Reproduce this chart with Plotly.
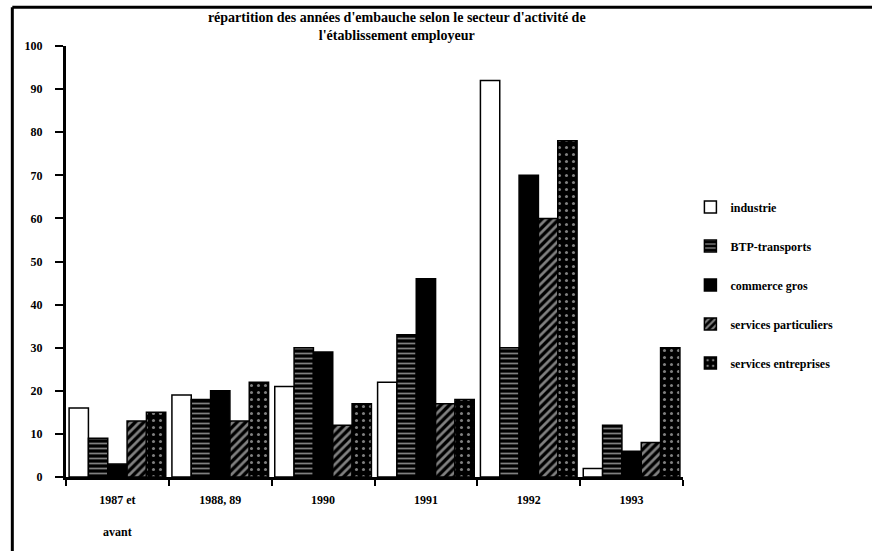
import plotly.graph_objects as go

# années d'embauche
categories = ["1987 et<br><br>avant", "1988, 89", "1990", "1991", "1992", "1993"]

industrie = [16, 19, 21, 22, 92, 2]
btp_transports = [9, 18, 30, 33, 30, 12]
commerce_gros = [3, 20, 29, 46, 70, 6]
services_particuliers = [13, 13, 12, 17, 60, 8]
services_entreprises = [15, 22, 17, 18, 78, 30]

y_ticks = [0, 10, 20, 30, 40, 50, 60, 70, 80, 90, 100]

series = [
    ("industrie", industrie, dict(color="white", pattern=dict(shape=""))),
    ("BTP-transports", btp_transports,
     dict(color="black", pattern=dict(shape="-", fgcolor="white", bgcolor="black", size=5, solidity=0.35))),
    ("commerce gros", commerce_gros, dict(color="black", pattern=dict(shape=""))),
    ("services particuliers", services_particuliers,
     dict(color="black", pattern=dict(shape="/", fgcolor="white", bgcolor="black", size=6, solidity=0.45))),
    ("services entreprises", services_entreprises,
     dict(color="black", pattern=dict(shape=".", fgcolor="white", bgcolor="black", size=7, solidity=0.15))),
]

fig = go.Figure()
for i, (name, vals, mk) in enumerate(series):
    fig.add_trace(go.Bar(
        x=categories, y=vals, name=name, legendgroup=str(i),
        marker=dict(line=dict(color="black", width=1.5), **mk),
    ))

serif = "Liberation Serif"

# cadre : trait en haut et à gauche seulement
frame = [
    dict(type="line", xref="paper", yref="paper", x0=-0.087, x1=1.32, y0=1.09, y1=1.09,
         line=dict(color="black", width=3)),
    dict(type="line", xref="paper", yref="paper", x0=-0.087, x1=-0.087, y0=1.09, y1=-0.18,
         line=dict(color="black", width=3)),
]

fig.update_layout(
    width=872, height=551,
    margin=dict(l=66, r=189, t=46, b=72),
    paper_bgcolor="white", plot_bgcolor="white",
    barmode="group", bargap=0.06, bargroupgap=0,
    font=dict(family=serif, color="black", size=12),
    title=dict(
        text="<b>répartition des années d'embauche selon le secteur d'activité de<br>l'établissement employeur</b>",
        x=0.455, xanchor="center", y=0.96, yanchor="middle",
        font=dict(family=serif, size=14, color="black"),
    ),
    legend=dict(
        x=1.012, y=0.66, xanchor="left", yanchor="top",
        tracegroupgap=20, font=dict(family=serif, size=12, weight="bold"),
        itemwidth=30,
    ),
    xaxis=dict(
        showline=True, linecolor="black", linewidth=3,
        ticks="outside", ticklen=6, tickwidth=2, tickcolor="black",
        tickson="boundaries", showgrid=False,
        ticklabelstandoff=10,
        tickfont=dict(family=serif, size=12, weight="bold"),
    ),
    yaxis=dict(
        range=[0, 100], tickvals=y_ticks,
        showline=True, linecolor="black", linewidth=3,
        ticks="outside", ticklen=8, tickwidth=2, tickcolor="black",
        showgrid=False, zeroline=False,
        ticklabelstandoff=10,
        tickfont=dict(family=serif, size=12, weight="bold"),
    ),
    shapes=frame,
)

fig.write_html("out.html", config={"displayModeBar": False},
               post_script="document.body.style.margin='0';")
